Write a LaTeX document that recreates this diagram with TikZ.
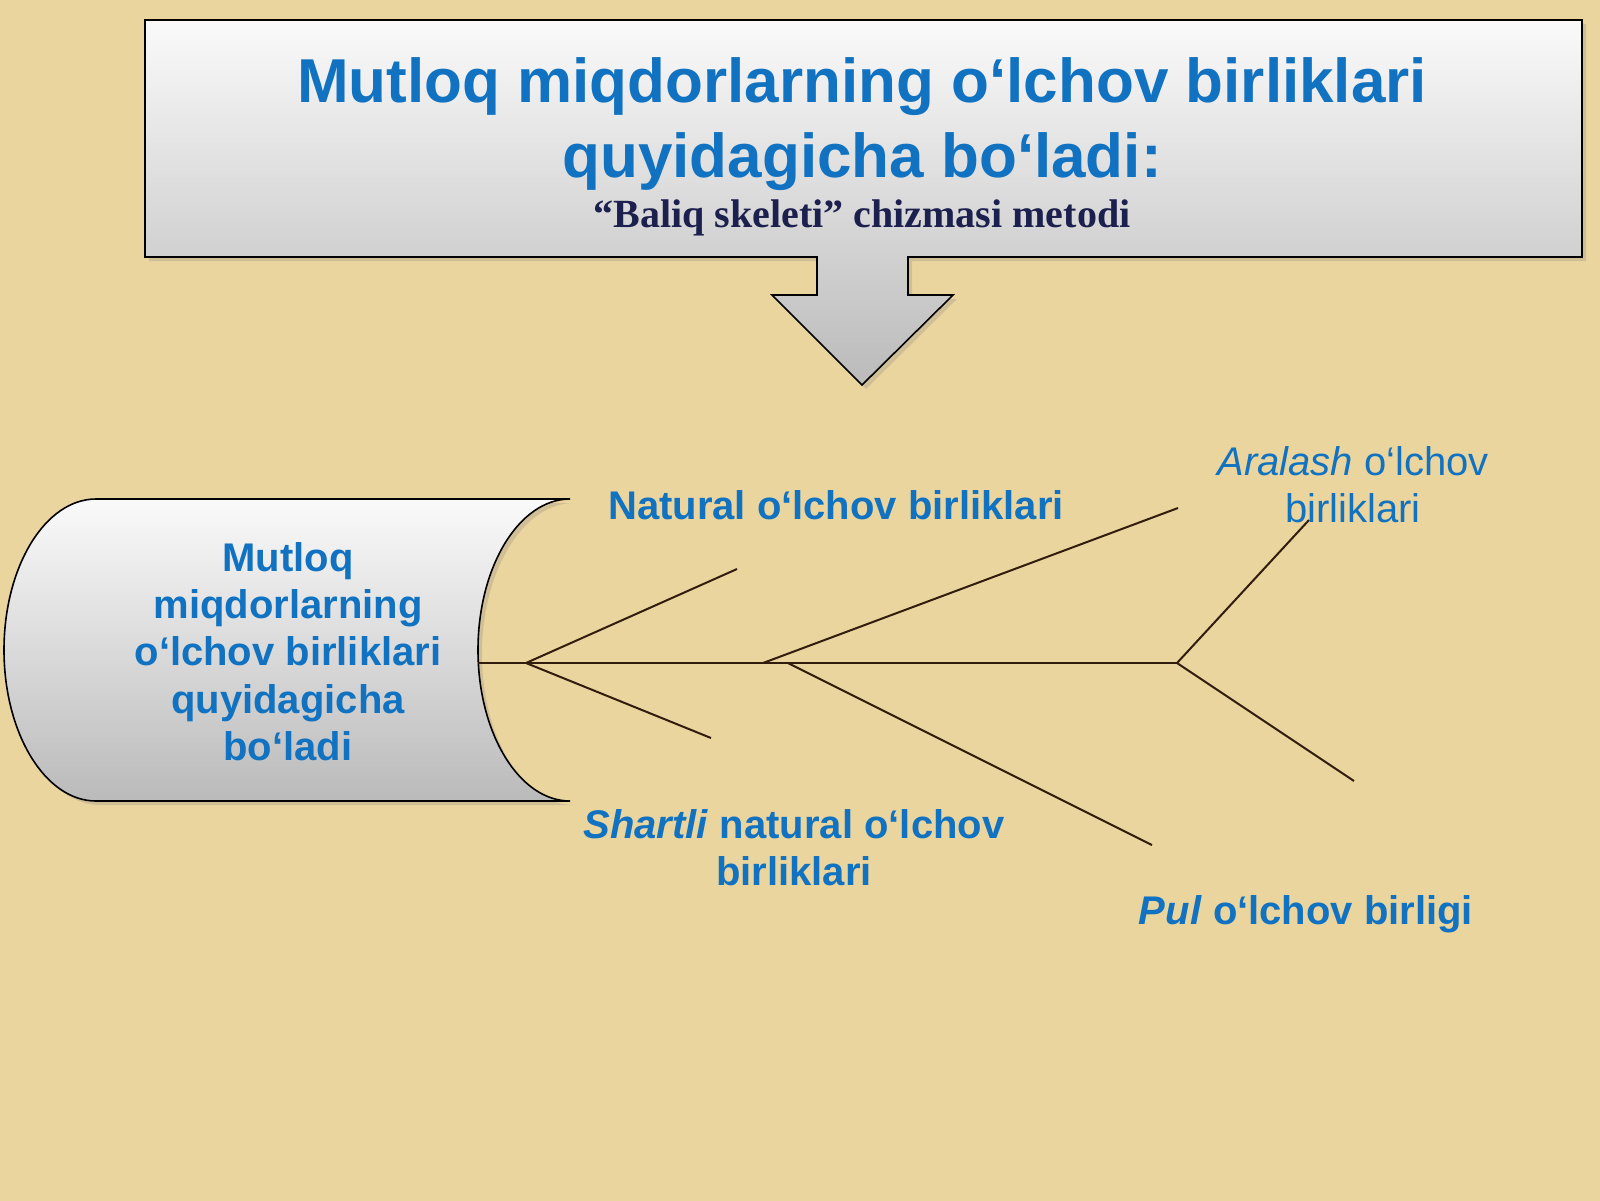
\documentclass[tikz,border=0pt]{standalone}
\usepackage{fontspec}
\setmainfont{Liberation Sans}
\newfontfamily\metodfont{Liberation Serif}
\usetikzlibrary{shadows}
\definecolor{papyrus}{RGB}{235,213,158}
\definecolor{titleblue}{RGB}{16,114,192}
\definecolor{metodnavy}{RGB}{28,32,78}
\definecolor{bonebrown}{RGB}{50,28,14}
\tikzset{
  boxshade/.style={top color=black!2, bottom color=black!27, draw=black, line width=0.8pt,
    drop shadow={opacity=0.25,shadow xshift=2pt,shadow yshift=-2pt}},
  bluetext/.style={text=titleblue, font=\bfseries\fontsize{20}{23.6}\selectfont, align=center, inner sep=0pt},
  thintext/.style={bluetext, font=\fontsize{20}{23.6}\selectfont},
  fishbone/.style={draw=bonebrown, line width=1pt},
}
\begin{document}
\begin{tikzpicture}[x=0.5pt,y=-0.5pt]
  % papyrus background
  \useasboundingbox (0,0) rectangle (1600,1200);
  \fill[papyrus] (-10,-10) rectangle (1610,1210);

  % title box with its arrow
  \draw[boxshade] (145,20) -- (1582,20) -- (1582,257) -- (908,257) -- (908,295) -- (953,295)
    -- (862,385) -- (772,295) -- (817,295) -- (817,257) -- (145,257) -- cycle;
  \node (title) [bluetext, font=\bfseries\fontsize{31}{37.5}\selectfont] at (862,124.5)
    {Mutloq miqdorlarning o‘lchov birliklari\\quyidagicha bo‘ladi:};
  \node (metod) [anchor=base, inner sep=0pt, text=metodnavy, font=\metodfont\bfseries\fontsize{20}{24}\selectfont]
    at (862,227) {“Baliq skeleti” chizmasi metodi};

  % fish head
  \draw[boxshade] (4,650) .. controls (4,567) and (45,499) .. (96,499) -- (570,499)
    .. controls (519,499) and (478,567) .. (478,650) .. controls (478,733) and (519,801) .. (570,801)
    -- (96,801) .. controls (45,801) and (4,733) .. (4,650) -- cycle;
  \node (head) [bluetext] at (288,651.5)
    {Mutloq\\miqdorlarning\\o‘lchov birliklari\\quyidagicha\\bo‘ladi};

  % skeleton
  \coordinate (spine0) at (478,663);
  \coordinate (fork1) at (526,663);
  \coordinate (fork2) at (763,663);
  \coordinate (fork3) at (788,663);
  \coordinate (tail) at (1177,663);
  \coordinate (bone1a) at (737,569);
  \coordinate (bone1b) at (711,738);
  \coordinate (bone2a) at (1178,508);
  \coordinate (bone3b) at (1152,845);
  \coordinate (tailup) at (1309,520);
  \coordinate (taildown) at (1354,781);

  \draw[fishbone] (spine0) -- (tail);
  \foreach \from/\to in {fork1/bone1a,fork1/bone1b,fork2/bone2a,fork3/bone3b,tail/tailup,tail/taildown}
    \draw[fishbone] (\from) -- (\to);

  % labels
  \node (natural) [bluetext, anchor=base] at (836,519) {Natural o‘lchov birliklari};
  \node (shartli) [bluetext] at (794,848) {\textit{Shartli} natural o‘lchov\\birliklari};
  \node (aralash) [thintext] at (1353,484.5) {\textit{Aralash} o‘lchov\\birliklari};
  \node (pul) [bluetext, anchor=base] at (1306,924) {\textit{Pul} o‘lchov birligi};
\end{tikzpicture}
\end{document}
